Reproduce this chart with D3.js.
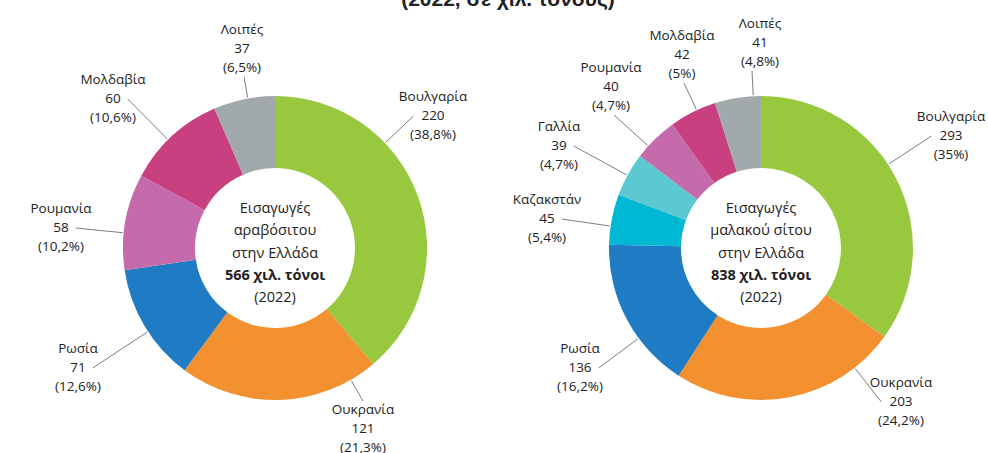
<!DOCTYPE html>
<html>
<head>
<meta charset="utf-8">
<script src="https://cdn.jsdelivr.net/npm/d3@7"></script>
<style>
  html, body { margin: 0; padding: 0; background: #fff; }
  svg text { font-family: "Open Sans", "Noto Sans", sans-serif; fill: #222; }
</style>
</head>
<body>
<div id="canvas"></div>
<script>
/* Data: corn (left) and soft wheat (right) imports into Greece, 2022 */
const CORN_COUNTRIES = ["Βουλγαρία", "Ουκρανία", "Ρωσία", "Ρουμανία", "Μολδαβία", "Λοιπές"]
const CORN_VALUES = [220, 121, 71, 58, 60, 37]
const CORN_PCTS = ["38,8%", "21,3%", "12,6%", "10,2%", "10,6%", "6,5%"]
const CORN_CENTER = ["Εισαγωγές", "αραβόσιτου", "στην Ελλάδα", "566 χιλ. τόνοι", "(2022)"]

const WHEAT_COUNTRIES = ["Βουλγαρία", "Ουκρανία", "Ρωσία", "Καζακστάν", "Γαλλία", "Ρουμανία", "Μολδαβία", "Λοιπές"]
const WHEAT_VALUES = [293, 203, 136, 45, 39, 40, 42, 41]
const WHEAT_PCTS = ["35%", "24,2%", "16,2%", "5,4%", "4,7%", "4,7%", "5%", "4,8%"]
const WHEAT_CENTER = ["Εισαγωγές", "μαλακού σίτου", "στην Ελλάδα", "838 χιλ. τόνοι", "(2022)"]

const TITLE = "(2022, σε χιλ. τόνους)"

/* Global constants */
const WIDTH = 988
const HEIGHT = 453
const OUTER_R = 152
const INNER_R = 80
const LINE_H = 19
const COLORS = {"Βουλγαρία": "#97c83e", "Ουκρανία": "#f39130", "Ρωσία": "#1f7cc4", "Καζακστάν": "#00b8d4",
                "Γαλλία": "#5cc8d0", "Ρουμανία": "#c56bab", "Μολδαβία": "#c8407f", "Λοιπές": "#a2a9ab"}

/* label placement (relative to donut centre) and which side the leader leaves from */
const CORN_LAYOUT = [
  {dx: 158, dy: -152, side: "left"},
  {dx: 88, dy: 161, side: "top"},
  {dx: -197, dy: 100, side: "right"},
  {dx: -214, dy: -40, side: "right"},
  {dx: -162, dy: -169, side: "right"},
  {dx: -33, dy: -219, side: "bottom", ax: 2}
]
const WHEAT_LAYOUT = [
  {dx: 190, dy: -132, side: "left"},
  {dx: 140, dy: 134, side: "left"},
  {dx: -181, dy: 100, side: "right"},
  {dx: -214, dy: -49, side: "right"},
  {dx: -202, dy: -122, side: "right"},
  {dx: -150, dy: -181, side: "bottom", ax: 3},
  {dx: -79, dy: -213, side: "bottom", ax: 2},
  {dx: -1, dy: -225, side: "bottom", ax: -8}
]

const svg = d3.select("#canvas")
              .append("svg")
              .attr("width", WIDTH)
              .attr("height", HEIGHT);

svg.append("text")
   .attr("x", 508)
   .attr("y", 6)
   .attr("text-anchor", "middle")
   .style("font-family", "'Liberation Sans', sans-serif")
   .style("font-weight", "bold")
   .style("font-size", "21px")
   .text(TITLE);

const pie = d3.pie().sort(null).value((d) => d.value);
const arc = d3.arc().innerRadius(INNER_R).outerRadius(OUTER_R);

const drawDonut = (cx, cy, countries, values, pcts, centerLines, layout) => {
  const data = countries.map((c, i) => ({name: c, value: values[i], pct: pcts[i], lay: layout[i]}));
  const g = svg.append("g").attr("transform", "translate(" + cx + "," + cy + ")");

  g.selectAll("path.slice")
   .data(pie(data))
   .enter()
   .append("path")
   .attr("class", "slice")
   .attr("d", arc)
   .attr("fill", (d) => COLORS[d.data.name]);

  // outside labels
  data.forEach((d) => {
    const lab = g.append("g").attr("transform", "translate(" + d.lay.dx + "," + d.lay.dy + ")");
    const lines = [d.name, String(d.value), "(" + d.pct + ")"];
    const texts = lines.map((t, i) => lab.append("text")
       .attr("x", 0)
       .attr("y", i * LINE_H)
       .attr("dy", "0.35em")
       .attr("text-anchor", "middle")
       .style("font-size", "13.5px")
       .text(t));
    const w = texts[1].node().getComputedTextLength();
    let sx, sy;
    if (d.lay.side === "left") { sx = d.lay.dx - w / 2 - 8; sy = d.lay.dy + LINE_H + 1; }
    else if (d.lay.side === "right") { sx = d.lay.dx + w / 2 + 7; sy = d.lay.dy + LINE_H + 1; }
    else if (d.lay.side === "top") { sx = d.lay.dx; sy = d.lay.dy - 8; }
    else { sx = d.lay.dx + (d.lay.ax || 0); sy = d.lay.dy + 2 * LINE_H + 10; }
    const ang = Math.atan2(sy, sx);
    g.append("line")
     .attr("x1", sx).attr("y1", sy)
     .attr("x2", Math.cos(ang) * (OUTER_R + 1))
     .attr("y2", Math.sin(ang) * (OUTER_R + 1))
     .attr("stroke", "#6e6e6e")
     .attr("stroke-width", 0.9);
  });

  // centre text
  centerLines.forEach((t, i) => {
    g.append("text")
     .attr("x", 0)
     .attr("y", -40 + i * 22.3)
     .attr("dy", "0.35em")
     .attr("text-anchor", "middle")
     .style("font-size", "14.5px")
     .style("font-weight", i === 3 ? "bold" : "normal")
     .text(t);
  });
};

drawDonut(275, 248, CORN_COUNTRIES, CORN_VALUES, CORN_PCTS, CORN_CENTER, CORN_LAYOUT);
drawDonut(761, 248, WHEAT_COUNTRIES, WHEAT_VALUES, WHEAT_PCTS, WHEAT_CENTER, WHEAT_LAYOUT);
</script>
</body>
</html>
